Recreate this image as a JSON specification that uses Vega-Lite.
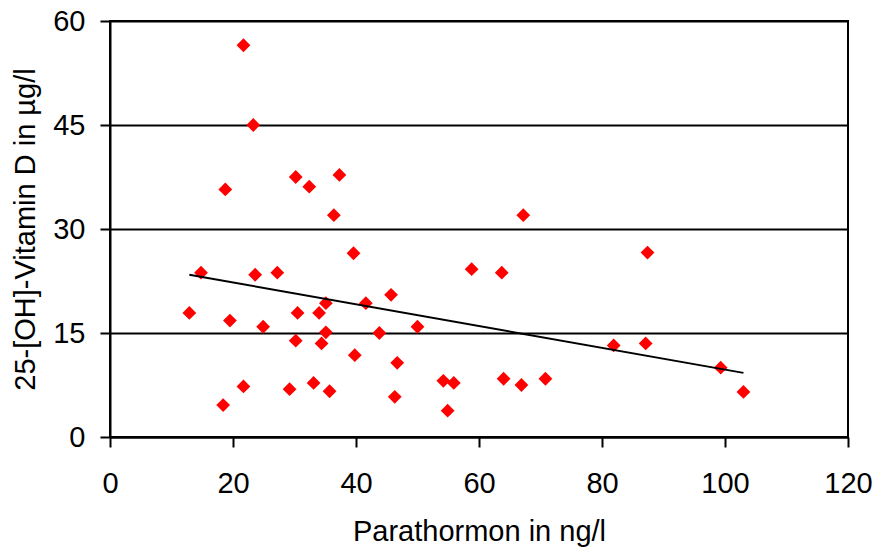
{
  "$schema": "https://vega.github.io/schema/vega-lite/v6.json",
  "width": 738,
  "height": 416,
  "autosize": {"type": "none"},
  "padding": {"left": 110, "top": 21, "right": 26, "bottom": 112},
  "background": "white",
  "datasets": {
    "points": [
      {"pth": 21.7, "vitd": 56.5}, {"pth": 23.3, "vitd": 45.0}, {"pth": 18.75, "vitd": 35.7},
      {"pth": 30.2, "vitd": 37.5}, {"pth": 32.4, "vitd": 36.1}, {"pth": 37.3, "vitd": 37.8},
      {"pth": 36.4, "vitd": 32.0}, {"pth": 14.8, "vitd": 23.7}, {"pth": 12.9, "vitd": 17.9},
      {"pth": 19.5, "vitd": 16.8}, {"pth": 23.6, "vitd": 23.4}, {"pth": 27.2, "vitd": 23.7},
      {"pth": 24.9, "vitd": 15.9}, {"pth": 30.5, "vitd": 17.9}, {"pth": 30.2, "vitd": 13.9},
      {"pth": 34.0, "vitd": 17.9}, {"pth": 35.1, "vitd": 19.3}, {"pth": 35.1, "vitd": 15.1},
      {"pth": 34.4, "vitd": 13.5}, {"pth": 39.6, "vitd": 26.5}, {"pth": 41.6, "vitd": 19.3},
      {"pth": 45.7, "vitd": 20.5}, {"pth": 43.8, "vitd": 15.0}, {"pth": 39.8, "vitd": 11.8},
      {"pth": 46.7, "vitd": 10.7}, {"pth": 46.3, "vitd": 5.8}, {"pth": 21.7, "vitd": 7.3},
      {"pth": 18.4, "vitd": 4.6}, {"pth": 29.2, "vitd": 6.9}, {"pth": 33.1, "vitd": 7.8},
      {"pth": 35.7, "vitd": 6.6}, {"pth": 67.2, "vitd": 32.0}, {"pth": 58.8, "vitd": 24.2},
      {"pth": 63.7, "vitd": 23.7}, {"pth": 50.0, "vitd": 15.9}, {"pth": 87.4, "vitd": 26.6},
      {"pth": 81.9, "vitd": 13.2}, {"pth": 87.1, "vitd": 13.5}, {"pth": 54.2, "vitd": 8.1},
      {"pth": 55.9, "vitd": 7.8}, {"pth": 54.9, "vitd": 3.8}, {"pth": 64.0, "vitd": 8.4},
      {"pth": 66.9, "vitd": 7.5}, {"pth": 70.8, "vitd": 8.4}, {"pth": 99.3, "vitd": 10.0},
      {"pth": 103.0, "vitd": 6.5}
    ],
    "trend": [
      {"pth": 12.9, "vitd": 23.4},
      {"pth": 103.0, "vitd": 9.25}
    ]
  },
  "config": {
    "font": "Liberation Sans",
    "view": {"stroke": "black", "strokeWidth": 2},
    "axis": {
      "domainColor": "black",
      "domainWidth": 2,
      "tickColor": "black",
      "tickWidth": 2,
      "tickSize": 10,
      "labelFont": "Liberation Sans",
      "labelFontSize": 29,
      "labelColor": "black",
      "titleFont": "Liberation Sans",
      "titleFontSize": 29,
      "titleFontWeight": "normal",
      "titleColor": "black"
    }
  },
  "layer": [
    {
      "data": {"name": "points"},
      "mark": {"type": "point", "shape": "diamond", "filled": true, "color": "#ff0000", "opacity": 1, "size": 190},
      "encoding": {
        "x": {
          "field": "pth", "type": "quantitative",
          "scale": {"domain": [0, 120], "nice": false, "zero": false},
          "axis": {"title": "Parathormon in ng/l", "values": [0, 20, 40, 60, 80, 100, 120], "grid": false, "labelPadding": 22, "titlePadding": 19, "labelFlush": false}
        },
        "y": {
          "field": "vitd", "type": "quantitative",
          "scale": {"domain": [0, 60], "nice": false, "zero": false},
          "axis": {"title": "25-[OH]-Vitamin D in µg/l", "values": [0, 15, 30, 45, 60], "grid": true, "gridColor": "black", "gridWidth": 2, "gridOpacity": 1, "labelPadding": 15, "titlePadding": 12, "labelFlush": false}
        }
      }
    },
    {
      "data": {"name": "trend"},
      "mark": {"type": "line", "color": "black", "strokeWidth": 2},
      "encoding": {
        "x": {"field": "pth", "type": "quantitative"},
        "y": {"field": "vitd", "type": "quantitative"}
      }
    }
  ]
}
